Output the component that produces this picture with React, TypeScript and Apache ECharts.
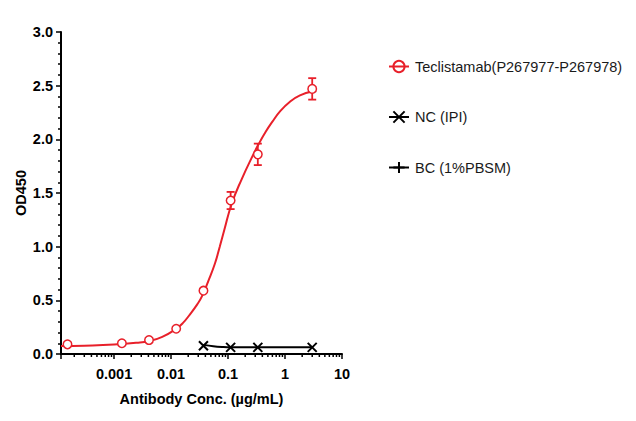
import { useEffect, useRef } from "react";
import * as echarts from "echarts";

// concentrations in µg/mL, OD450
const tecConc = [0.000152, 0.00137, 0.0041, 0.0123, 0.037, 0.111, 0.333, 3];
const tecOD = [0.09, 0.1, 0.13, 0.235, 0.59, 1.43, 1.86, 2.47];
const tecErr = [0, 0, 0, 0, 0, 0.08, 0.1, 0.1];

// fitted curve
const tecFitConc = [
  0.000117, 0.0003, 0.001, 0.0025, 0.0041, 0.007, 0.01225, 0.0162, 0.0215, 0.0286, 0.0346,
  0.045, 0.0591, 0.0715, 0.0861, 0.116, 0.174, 0.278, 0.34, 0.458, 0.592, 0.817, 1.22, 1.83, 3,
];
const tecFitOD = [
  0.075, 0.078, 0.088, 0.105, 0.122, 0.16, 0.235, 0.29, 0.37, 0.46, 0.534,
  0.68, 0.846, 1.0, 1.157, 1.4, 1.63, 1.86, 1.95, 2.07, 2.16, 2.26, 2.35, 2.41, 2.445,
];

const ncConc = [0.037, 0.111, 0.333, 3];
const ncOD = [0.077, 0.062, 0.062, 0.062];
const ncFitConc = [0.037, 0.055, 0.08, 0.111, 0.333, 3];
const ncFitOD = [0.085, 0.072, 0.065, 0.062, 0.062, 0.062];

const bcConc: number[] = [];
const bcOD: number[] = [];

const legendNames = ["Teclistamab(P267977-P267978)", "NC (IPI)", "BC (1%PBSM)"];

// log minor ticks (2..9 per decade)
const minorTicks = [
  0.0002, 0.0003, 0.0004, 0.0005, 0.0006, 0.0007, 0.0008, 0.0009,
  0.002, 0.003, 0.004, 0.005, 0.006, 0.007, 0.008, 0.009,
  0.02, 0.03, 0.04, 0.05, 0.06, 0.07, 0.08, 0.09,
  0.2, 0.3, 0.4, 0.5, 0.6, 0.7, 0.8, 0.9,
  2, 3, 4, 5, 6, 7, 8, 9,
];

const RED = "#e8202a";
const FONT = "Arial, 'Liberation Sans', sans-serif";
const CROSS = "path://M0,0L10,10M0,10L10,0";
const PLUS = "path://M5,0L5,10M0,5L10,5";

const zip = (xs: number[], ys: number[]) => xs.map((x, i) => [x, ys[i]]);

export default function App() {
  const ref = useRef<HTMLDivElement | null>(null);

  useEffect(() => {
    const el = ref.current!;
    const chart = echarts.init(el, null, { renderer: "svg" });

    const errData = tecConc
      .map((c, i) => [c, tecOD[i] - tecErr[i], tecOD[i] + tecErr[i]])
      .filter((_, i) => tecErr[i] > 0);

    chart.setOption({
      animation: false,
      grid: { left: 61, right: 294, top: 32, bottom: 67, containLabel: false, outerBoundsMode: "none" },
      legend: {
        data: legendNames,
        orient: "vertical",
        left: 383,
        top: 54,
        itemWidth: 20,
        itemHeight: 14,
        itemGap: 35.5,
        selectedMode: false,
        textStyle: { fontFamily: FONT, fontSize: 14.5, color: "#1a1a1a", padding: [0, 0, 0, 1] },
      },
      xAxis: {
        type: "log",
        logBase: 10,
        min: 0.000117,
        max: 10,
        name: "Antibody Conc. (µg/mL)",
        nameLocation: "middle",
        nameGap: 37,
        nameTextStyle: { fontFamily: FONT, fontSize: 14.5, fontWeight: "bold", color: "#000" },
        axisLine: { lineStyle: { color: "#000", width: 2 } },
        axisTick: { length: 5, lineStyle: { color: "#000", width: 1.5 } },
        axisLabel: {
          margin: 12,
          fontFamily: FONT,
          fontSize: 14.5,
          fontWeight: "bold",
          color: "#000",
          formatter: (v: number) => {
            const l = Math.log10(v);
            if (Math.abs(l - Math.round(l)) > 1e-6) return "";
            return v >= 1 ? String(Math.round(v)) : String(+v.toPrecision(1));
          },
        },
        splitLine: { show: false },
      },
      yAxis: {
        type: "value",
        min: 0,
        max: 3,
        interval: 0.5,
        name: "OD450",
        nameLocation: "middle",
        nameGap: 32,
        nameTextStyle: { fontFamily: FONT, fontSize: 14.5, fontWeight: "bold", color: "#000" },
        axisLine: { show: true, lineStyle: { color: "#000", width: 2 } },
        axisTick: { show: true, length: 5, lineStyle: { color: "#000", width: 1.5 } },
        minorTick: { show: true, splitNumber: 5, length: 3, lineStyle: { color: "#000", width: 1.5 } },
        axisLabel: {
          margin: 8,
          fontFamily: FONT,
          fontSize: 14.5,
          fontWeight: "bold",
          color: "#000",
          formatter: (v: number) => v.toFixed(1),
        },
        splitLine: { show: false },
      },
      series: [
        {
          name: legendNames[0],
          type: "line",
          data: zip(tecFitConc, tecFitOD),
          smooth: 0.5,
          showSymbol: false,
          symbol: "circle",
          symbolSize: 9,
          lineStyle: { color: RED, width: 2 },
          itemStyle: { color: "rgba(0,0,0,0)", borderColor: RED, borderWidth: 1.6 },
          z: 2,
        },
        {
          type: "custom",
          name: "tec-err",
          clip: false,
          data: errData,
          encode: { x: 0, y: [1, 2] },
          renderItem: (_: any, api: any) => {
            const lo = api.coord([api.value(0), api.value(1)]);
            const hi = api.coord([api.value(0), api.value(2)]);
            const w = 4;
            const st = { stroke: RED, lineWidth: 1.8 };
            return {
              type: "group",
              children: [
                { type: "line", shape: { x1: lo[0], y1: lo[1], x2: hi[0], y2: hi[1] }, style: st },
                { type: "line", shape: { x1: lo[0] - w, y1: lo[1], x2: lo[0] + w, y2: lo[1] }, style: st },
                { type: "line", shape: { x1: hi[0] - w, y1: hi[1], x2: hi[0] + w, y2: hi[1] }, style: st },
              ],
            };
          },
          z: 2,
        },
        {
          name: legendNames[0],
          type: "scatter",
          data: zip(tecConc, tecOD),
          symbol: "circle",
          symbolSize: 8.5,
          itemStyle: { color: "#ffffff", borderColor: RED, borderWidth: 1.5, opacity: 1 },
          z: 3,
        },
        {
          name: legendNames[1],
          type: "line",
          data: zip(ncFitConc, ncFitOD),
          smooth: 0.4,
          showSymbol: false,
          symbol: CROSS,
          symbolSize: 9,
          lineStyle: { color: "#000", width: 2 },
          itemStyle: { color: "#000", borderColor: "#000", borderWidth: 2 },
          z: 2,
        },
        {
          name: legendNames[1],
          type: "scatter",
          data: zip(ncConc, ncOD),
          symbol: CROSS,
          symbolSize: 9,
          itemStyle: { color: "#000", borderColor: "#000", borderWidth: 2, opacity: 1 },
          z: 3,
        },
        {
          name: legendNames[2],
          type: "line",
          data: zip(bcConc, bcOD),
          symbol: PLUS,
          symbolSize: 9,
          lineStyle: { color: "#000", width: 2 },
          itemStyle: { color: "#000", borderColor: "#000", borderWidth: 1.6 },
        },
        {
          type: "custom",
          name: "x-minor",
          clip: false,
          silent: true,
          data: minorTicks.map((v) => [v, 0]),
          encode: { x: 0, y: 1 },
          renderItem: (_: any, api: any) => {
            const p = api.coord([api.value(0), 0]);
            return {
              type: "line",
              shape: { x1: p[0], y1: p[1], x2: p[0], y2: p[1] + 3 },
              style: { stroke: "#000", lineWidth: 1.5 },
            };
          },
          z: 1,
        },
      ],
    });

    return () => chart.dispose();
  }, []);

  return (
    <div
      ref={ref}
      style={{ position: "fixed", left: 0, top: 0, width: 636, height: 421, background: "#fff" }}
    />
  );
}
